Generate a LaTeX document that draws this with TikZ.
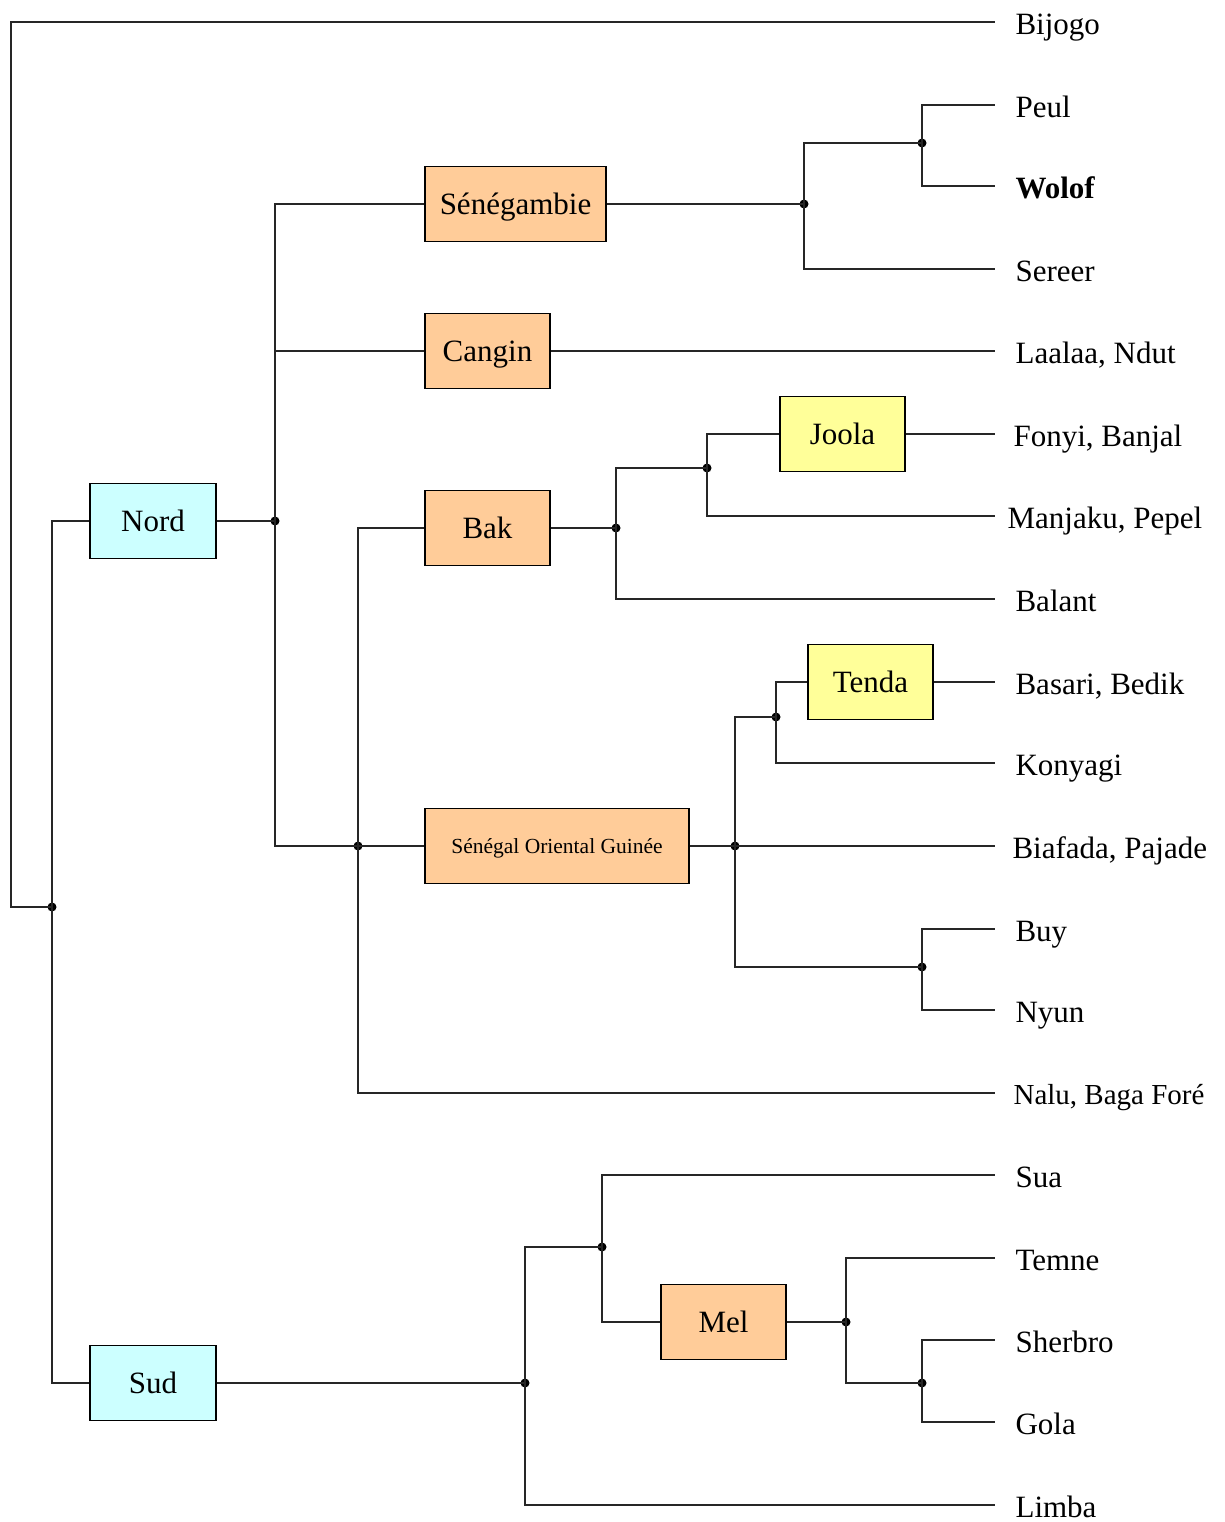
\documentclass[tikz,border=0pt]{standalone}
\usepackage{fontspec}
\setmainfont{Liberation Serif}
\begin{document}
\begin{tikzpicture}[x=1pt,y=-1pt,
  line width=1.1pt, draw=black!85,
  box/.style={draw=black, line width=1.1pt, inner sep=0pt, minimum height=75pt,
     text height=20.5pt, text depth=0pt, font=\fontsize{31}{36}\selectfont},
  orange/.style={box, fill={rgb,255:red,255;green,204;blue,153}},
  cyanbox/.style={box, fill={rgb,255:red,204;green,255;blue,255}},
  yellowbox/.style={box, fill={rgb,255:red,255;green,255;blue,153}},
  leaf/.style={anchor=west, inner ysep=0pt, inner xsep=0pt, text height=20.5pt, text depth=0pt,
     font=\fontsize{31}{36}\selectfont, yshift=-2pt},
  dot/.style={circle, fill=black, inner sep=0pt, minimum size=9pt}]
\useasboundingbox (0,0) rectangle (1225,1522);

% boxes
\node[cyanbox, minimum width=126pt] (nord) at (153,521) {Nord};
\node[cyanbox, minimum width=126pt] (sud) at (153,1383) {Sud};
\node[orange, minimum width=181pt] (seneg) at (515.5,204) {Sénégambie};
\node[orange, minimum width=125pt] (cangin) at (487.5,351) {Cangin};
\node[orange, minimum width=125pt] (bak) at (487.5,528) {Bak};
\node[orange, minimum width=264pt, font=\fontsize{21.5}{25}\selectfont, text height=14pt] (sog) at (557,846) {Sénégal Oriental Guinée};
\node[yellowbox, minimum width=125pt] (joola) at (842.5,434) {Joola};
\node[yellowbox, minimum width=125pt] (tenda) at (870.5,682) {Tenda};
\node[orange, minimum width=125pt] (mel) at (723.5,1322) {Mel};

% leaves: text nodes, and the free ends of their connectors at x=995
\node[leaf] (bijogo) at (1015,22) {Bijogo};
\coordinate (bijogoE) at (995,22);
\node[leaf] (peul) at (1015,105) {Peul};
\coordinate (peulE) at (995,105);
\node[leaf, font=\fontsize{31}{36}\selectfont\bfseries] (wolof) at (1015,186) {Wolof};
\coordinate (wolofE) at (995,186);
\node[leaf] (sereer) at (1015,269) {Sereer};
\coordinate (sereerE) at (995,269);
\node[leaf] (laalaa) at (1015,351) {Laalaa, Ndut};
\coordinate (laalaaE) at (995,351);
\node[leaf] (fonyi) at (1013,434) {Fonyi, Banjal};
\coordinate (fonyiE) at (995,434);
\node[leaf] (manjaku) at (1007,516) {Manjaku, Pepel};
\coordinate (manjakuE) at (995,516);
\node[leaf] (balant) at (1015,599) {Balant};
\coordinate (balantE) at (995,599);
\node[leaf] (basari) at (1015,682) {Basari, Bedik};
\coordinate (basariE) at (995,682);
\node[leaf] (konyagi) at (1015,763) {Konyagi};
\coordinate (konyagiE) at (995,763);
\node[leaf] (biafada) at (1012,846) {Biafada, Pajade};
\coordinate (biafadaE) at (995,846);
\node[leaf] (buy) at (1015,929) {Buy};
\coordinate (buyE) at (995,929);
\node[leaf] (nyun) at (1015,1010) {Nyun};
\coordinate (nyunE) at (995,1010);
\node[leaf, font=\fontsize{29}{34}\selectfont, text height=19pt] (nalu) at (1013,1093) {Nalu, Baga Foré};
\coordinate (naluE) at (995,1093);
\node[leaf] (sua) at (1015,1175) {Sua};
\coordinate (suaE) at (995,1175);
\node[leaf] (temne) at (1015,1258) {Temne};
\coordinate (temneE) at (995,1258);
\node[leaf] (sherbro) at (1015,1340) {Sherbro};
\coordinate (sherbroE) at (995,1340);
\node[leaf] (gola) at (1015,1422) {Gola};
\coordinate (golaE) at (995,1422);
\node[leaf] (limba) at (1015,1505) {Limba};
\coordinate (limbaE) at (995,1505);

% junctions
\node[dot] (r) at (52,907) {};
\node[dot] (n) at (275,521) {};
\node[dot] (s) at (358,846) {};
\node[dot] (g1) at (804,204) {};
\node[dot] (g2) at (922,143) {};
\node[dot] (b1) at (616,528) {};
\node[dot] (b2) at (707,468) {};
\node[dot] (o1) at (735,846) {};
\node[dot] (o2) at (776,717) {};
\node[dot] (o3) at (922,967) {};
\node[dot] (u1) at (525,1383) {};
\node[dot] (u2) at (602,1247) {};
\node[dot] (m1) at (846,1322) {};
\node[dot] (m2) at (922,1383) {};

% connectors
\draw (r.center) -- (11,907) |- (bijogoE);
\draw (r.center) |- (nord.west);
\draw (r.center) |- (sud.west);
\draw (nord.east) -- (n.center);
\draw (n.center) |- (seneg.west);
\draw (n.center) |- (cangin.west);
\draw (n.center) |- (s.center);
\draw (s.center) |- (bak.west);
\draw (s.center) -- (sog.west);
\draw (s.center) |- (naluE);
\draw (seneg.east) -- (g1.center);
\draw (g1.center) |- (g2.center);
\draw (g1.center) |- (sereerE);
\draw (g2.center) |- (peulE);
\draw (g2.center) |- (wolofE);
\draw (cangin.east) -- (laalaaE);
\draw (bak.east) -- (b1.center);
\draw (b1.center) |- (b2.center);
\draw (b1.center) |- (balantE);
\draw (b2.center) |- (joola.west);
\draw (b2.center) |- (manjakuE);
\draw (joola.east) -- (fonyiE);
\draw (sog.east) -- (o1.center) -- (biafadaE);
\draw (o1.center) |- (o2.center);
\draw (o1.center) |- (o3.center);
\draw (o2.center) |- (tenda.west);
\draw (o2.center) |- (konyagiE);
\draw (tenda.east) -- (basariE);
\draw (o3.center) |- (buyE);
\draw (o3.center) |- (nyunE);
\draw (sud.east) -- (u1.center);
\draw (u1.center) |- (u2.center);
\draw (u1.center) |- (limbaE);
\draw (u2.center) |- (suaE);
\draw (u2.center) |- (mel.west);
\draw (mel.east) -- (m1.center);
\draw (m1.center) |- (temneE);
\draw (m1.center) |- (m2.center);
\draw (m2.center) |- (sherbroE);
\draw (m2.center) |- (golaE);
\end{tikzpicture}
\end{document}
